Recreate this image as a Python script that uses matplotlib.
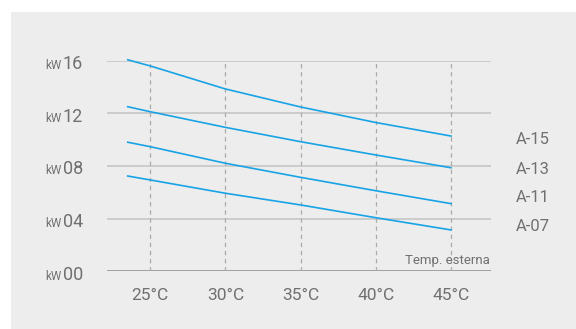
import matplotlib
matplotlib.use('Agg')
import matplotlib.pyplot as plt
from matplotlib.patches import Rectangle

# 数据：外部温度 (°C) 与各型号功率 (kW)
temps = [23.5, 25, 30, 35, 40, 45]
a15 = [16.07, 15.6, 13.85, 12.48, 11.3, 10.27]
a13 = [12.5, 12.12, 10.93, 9.84, 8.83, 7.86]
a11 = [9.8, 9.46, 8.2, 7.13, 6.11, 5.13]
a07 = [7.23, 6.93, 5.92, 5.03, 4.06, 3.13]
series_names = ['A-15', 'A-13', 'A-11', 'A-07']

x_ticks = [25, 30, 35, 40, 45]
x_labels = ['25°C', '30°C', '35°C', '40°C', '45°C']
y_ticks = [0, 4, 8, 12, 16]
y_labels = ['00', '04', '08', '12', '16']

plt.rcParams['font.family'] = ['Roboto', 'DejaVu Sans']
text_color = '#707070'
line_color = '#18a3e6'

W, H = 576, 329
fig = plt.figure(figsize=(W / 100, H / 100), dpi=100)
fig.patch.set_facecolor('white')

# 灰色背景面板
fig.patches.append(Rectangle((11 / W, 0), 1 - 11 / W, 1 - 12 / H,
                             transform=fig.transFigure, facecolor='#ededed',
                             edgecolor='none', zorder=-10))

ax = fig.add_axes([107 / W, (H - 271.1) / H, 384 / W, (271.1 - 60.7) / H])
ax.set_zorder(1)
ax.set_facecolor('none')
ax.set_xlim(22.12, 47.66)
ax.set_ylim(0, 16)

for s in ax.spines.values():
    s.set_visible(False)

# 网格线
for y in y_ticks[1:]:
    ax.axhline(y, color='#c9c9c9', lw=1.3, zorder=1)
ax.axhline(0, color='#9a9a9a', lw=1.3, zorder=1)
for x in x_ticks:
    ax.axvline(x, color='#ababab', lw=0.9, ls=(0, (3.5, 3)), zorder=1)

for vals in [a15, a13, a11, a07]:
    ax.plot(temps, vals, color=line_color, lw=1.2, clip_on=False, zorder=3)

ax.set_xticks(x_ticks)
ax.set_xticklabels(x_labels, fontsize=12.5, color=text_color)
ax.tick_params(axis='x', length=0, pad=12)
ax.set_yticks([])

# y 轴标签 "kW 16"
for y, lab in zip(y_ticks, y_labels):
    ax.annotate(lab, xy=(0, y), xycoords=('axes fraction', 'data'),
                xytext=(-24, -8.6), textcoords='offset pixels',
                ha='right', va='baseline', fontsize=13, color=text_color)
    ax.annotate('kW', xy=(0, y), xycoords=('axes fraction', 'data'),
                xytext=(-46, -8.6), textcoords='offset pixels',
                ha='right', va='baseline', fontsize=8.5, color=text_color)

# 右侧型号标签
label_y = [10.02, 7.76, 5.58, 3.38]
for name, y in zip(series_names, label_y):
    ax.text(1.065, y, name, transform=ax.get_yaxis_transform(),
            ha='left', va='center', fontsize=12, color=text_color)

ax.annotate('Temp. esterna', xy=(1, 0), xycoords='axes fraction',
            xytext=(-1, 7), textcoords='offset pixels', ha='right',
            va='baseline', fontsize=9.5, color=text_color)

fig.savefig('out.png', dpi=100, facecolor=fig.get_facecolor())
